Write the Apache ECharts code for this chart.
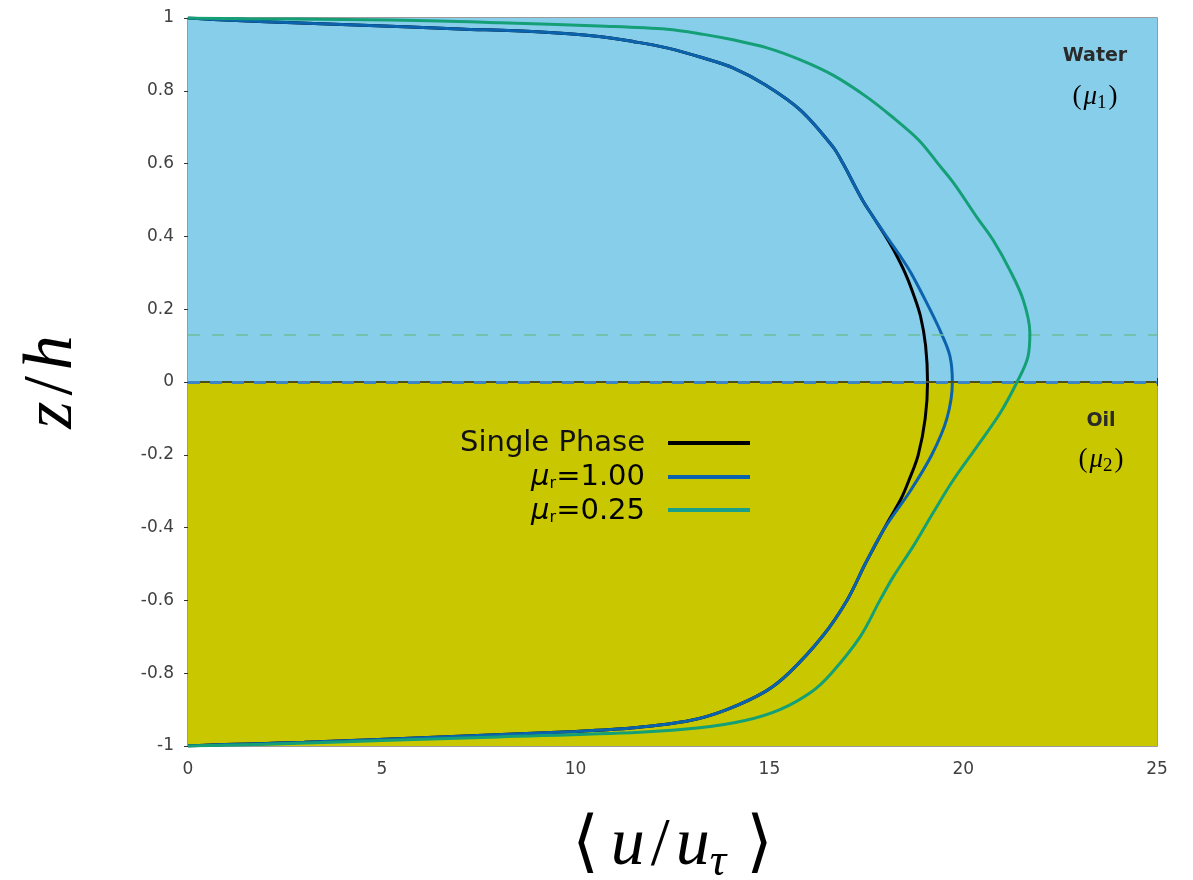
<!DOCTYPE html>
<html>
<head>
<meta charset="utf-8">
<script src="https://cdn.jsdelivr.net/npm/echarts@6/dist/echarts.min.js"></script>
<style>
  html, body { margin: 0; padding: 0; background: #ffffff; }
  #chart { width: 1193px; height: 880px; }
</style>
</head>
<body>
<div id="chart"></div>
<script>
// Mean streamwise velocity profiles across the two-layer channel.
const xTicks = [0, 5, 10, 15, 20, 25];
const zTicks = [-1, -0.8, -0.6, -0.4, -0.2, 0, 0.2, 0.4, 0.6, 0.8, 1];

// Single-phase reference profile
const singleZ = [1, 0.995, 0.99, 0.98, 0.97, 0.962, 0.949, 0.935, 0.918, 0.89, 0.863, 0.816, 0.747, 0.646, 0.6, 0.5, 0.45, 0.4, 0.36, 0.3, 0.24, 0.18, 0.1, 0.0, -0.1, -0.2, -0.27, -0.32, -0.38, -0.45, -0.5, -0.6, -0.7, -0.8, -0.85, -0.9, -0.93, -0.95, -0.96, -0.975, -0.99, -0.995, -1];
const singleU = [0, 0.8, 2, 4.5, 7, 9, 10.6, 11.5, 12.35, 13.3, 14.06, 14.9, 15.8, 16.64, 16.9, 17.4, 17.7, 18.0, 18.22, 18.5, 18.72, 18.9, 19.03, 19.08, 19.02, 18.84, 18.6, 18.4, 18.08, 17.72, 17.47, 17.0, 16.36, 15.5, 14.9, 13.9, 12.95, 11.5, 10, 6.5, 3, 1.2, 0];

// Viscosity ratio 1.00
const mu100Z = [1, 0.995, 0.99, 0.98, 0.97, 0.962, 0.949, 0.935, 0.918, 0.89, 0.863, 0.816, 0.747, 0.646, 0.6, 0.5, 0.45, 0.4, 0.35, 0.3, 0.2, 0.13, 0.07, 0.0, -0.1, -0.2, -0.3, -0.4, -0.5, -0.6, -0.7, -0.8, -0.85, -0.9, -0.93, -0.95, -0.96, -0.975, -0.99, -0.995, -1];
const mu100U = [0, 0.8, 2, 4.5, 7, 9, 10.6, 11.5, 12.35, 13.3, 14.06, 14.9, 15.8, 16.64, 16.9, 17.4, 17.7, 18.02, 18.35, 18.65, 19.14, 19.45, 19.66, 19.72, 19.58, 19.19, 18.63, 17.98, 17.47, 17.0, 16.36, 15.5, 14.9, 13.9, 12.95, 11.5, 10, 6.5, 3, 1.2, 0];

// Viscosity ratio 0.25
const mu025Z = [1, 0.998, 0.996, 0.992, 0.987, 0.978, 0.969, 0.955, 0.94, 0.918, 0.885, 0.843, 0.784, 0.73, 0.665, 0.6, 0.547, 0.453, 0.39, 0.308, 0.225, 0.135, 0.069, 0.0, -0.086, -0.178, -0.27, -0.36, -0.453, -0.536, -0.6, -0.7, -0.8, -0.85, -0.9, -0.93, -0.95, -0.962, -0.975, -0.985, -0.995, -1];
const mu025U = [0, 1.5, 4, 6.5, 8.05, 10.6, 12.36, 13.3, 14.06, 14.94, 15.8, 16.64, 17.5, 18.15, 18.85, 19.35, 19.75, 20.35, 20.77, 21.2, 21.55, 21.72, 21.67, 21.39, 20.95, 20.35, 19.74, 19.22, 18.7, 18.19, 17.85, 17.34, 16.6, 16.1, 15.27, 14.37, 13.2, 11.66, 8, 5, 2, 0];

// Interface levels
const interfaceZ = 0;
const meanLevelZ = 0.13;

const seriesNames = ['Single Phase', 'μr=1.00', 'μr=0.25'];
const colors = ['#000000', '#0b62ad', '#159f76'];

function pairs(u, z) { return u.map((v, i) => [v, z[i]]); }

const chart = echarts.init(document.getElementById('chart'));
const tickFont = { fontFamily: '"DejaVu Sans", sans-serif', fontSize: 17, color: '#404040' };
const serif = '"Liberation Serif", "DejaVu Serif", serif';
const sans = '"DejaVu Sans", "Liberation Sans", sans-serif';

const muRich = {
  i: { fontFamily: sans, fontStyle: 'italic', fontSize: 29, color: '#111' },
  s: { fontFamily: sans, fontSize: 16, color: '#111', padding: [14, 0, 0, 0] },
  n: { fontFamily: sans, fontSize: 29, color: '#111' }
};
const phaseRich = {
  p: { fontFamily: serif, fontSize: 27, color: '#000' },
  i: { fontFamily: serif, fontStyle: 'italic', fontSize: 27, color: '#000', padding: [0, 0, 0, 2] },
  s: { fontFamily: serif, fontSize: 19, color: '#000', padding: [12, 2, 0, 0] }
};

const option = {
  animation: false,
  grid: { left: 188, right: 36, top: 18, bottom: 134, containLabel: false, outerBoundsMode: 'none', show: true, borderColor: '#7a7a7a', borderWidth: 1.5, backgroundColor: 'transparent' },
  xAxis: [{
    type: 'value', min: 0, max: 25, interval: 5,
    axisLine: { show: false },
    axisTick: { inside: true, length: 4, lineStyle: { color: '#333' } },
    axisLabel: Object.assign({ margin: 15 }, tickFont),
    splitLine: { show: false },
    name: '{b|⟨}{i|u}{n|/}{i|u}{s|τ}{c|⟩}', nameLocation: 'middle', nameGap: 60,
    nameTextStyle: {
      rich: {
        b: { fontFamily: serif, fontSize: 68, color: '#000', padding: [0, 12, 0, 0] },
        c: { fontFamily: serif, fontSize: 68, color: '#000', padding: [0, 0, 0, 12] },
        n: { fontFamily: serif, fontSize: 68, color: '#000', padding: [0, 6, 0, 6] },
        i: { fontFamily: serif, fontStyle: 'italic', fontSize: 68, color: '#000' },
        s: { fontFamily: serif, fontStyle: 'italic', fontSize: 46, color: '#000', padding: [34, 8, 0, 0] }
      }
    }
  }, {
    type: 'value', min: 0, max: 25, interval: 5, position: 'top',
    axisLine: { show: false }, axisLabel: { show: false },
    axisTick: { inside: true, length: 4, lineStyle: { color: '#333' } },
    splitLine: { show: false }
  }],
  yAxis: [{
    type: 'value', min: -1, max: 1, interval: 0.2,
    axisLine: { show: false },
    axisTick: { inside: true, length: 4, lineStyle: { color: '#333' } },
    axisLabel: Object.assign({ margin: 14, formatter: v => String(Math.round(v * 10) / 10) }, tickFont),
    splitLine: { show: false },
    name: '{i|z}{n|/}{i|h}', nameLocation: 'middle', nameGap: 100, nameRotate: 90,
    nameTextStyle: {
      rich: {
        n: { fontFamily: serif, fontSize: 70, color: '#000', padding: [0, 6, 0, 6] },
        i: { fontFamily: serif, fontStyle: 'italic', fontSize: 70, color: '#000' }
      }
    }
  }, {
    type: 'value', min: -1, max: 1, interval: 0.2, position: 'right',
    axisLine: { show: false }, axisLabel: { show: false },
    axisTick: { inside: true, length: 4, lineStyle: { color: '#333' } },
    splitLine: { show: false }
  }],
  series: [
    {
      name: 'phases', type: 'line', data: [], silent: true, z: 1,
      markArea: {
        silent: true,
        data: [
          [{ yAxis: interfaceZ, itemStyle: { color: '#87ceea' } }, { yAxis: 1 }],
          [{ yAxis: -1, itemStyle: { color: '#c9c800' } }, { yAxis: interfaceZ }]
        ]
      },
      markLine: {
        silent: true, symbol: 'none', label: { show: false },
        data: [
          { yAxis: interfaceZ, lineStyle: { color: '#4e4e1c', width: 2, type: 'solid' } },
          { yAxis: meanLevelZ, lineStyle: { color: '#6cbf9c', width: 1.5, type: [12, 12] } }
        ]
      }
    },
    {
      name: 'interface', type: 'line', data: [], silent: true, z: 2,
      markLine: {
        silent: true, symbol: 'none', label: { show: false },
        data: [{ yAxis: interfaceZ, lineStyle: { color: '#3d86c6', width: 3, type: [12, 10] } }]
      }
    },
    { name: seriesNames[0], type: 'line', data: pairs(singleU, singleZ), showSymbol: false, smooth: 0.35, lineStyle: { color: colors[0], width: 3 }, z: 3 },
    { name: seriesNames[1], type: 'line', data: pairs(mu100U, mu100Z), showSymbol: false, smooth: 0.35, lineStyle: { color: colors[1], width: 3 }, z: 4 },
    { name: seriesNames[2], type: 'line', data: pairs(mu025U, mu025Z), showSymbol: false, smooth: 0.35, lineStyle: { color: colors[2], width: 3 }, z: 5 }
  ],
  graphic: {
    elements: [
      // legend entries
      { type: 'text', z: 100, x: 645, y: 443, style: { text: seriesNames[0], font: '29px ' + sans, fill: '#111', align: 'right', verticalAlign: 'middle' } },
      { type: 'text', z: 100, x: 645, y: 477, style: { text: '{i|μ}{s|r}{n|=1.00}', rich: muRich, align: 'right', verticalAlign: 'middle' } },
      { type: 'text', z: 100, x: 645, y: 511, style: { text: '{i|μ}{s|r}{n|=0.25}', rich: muRich, align: 'right', verticalAlign: 'middle' } },
      { type: 'line', z: 100, shape: { x1: 668, y1: 443, x2: 750, y2: 443 }, style: { stroke: colors[0], lineWidth: 4 } },
      { type: 'line', z: 100, shape: { x1: 668, y1: 477, x2: 750, y2: 477 }, style: { stroke: colors[1], lineWidth: 4 } },
      { type: 'line', z: 100, shape: { x1: 668, y1: 510, x2: 750, y2: 510 }, style: { stroke: '#1aa088', lineWidth: 4 } },
      // phase labels
      { type: 'text', z: 100, x: 1095, y: 56, style: { text: 'Water', font: 'bold 19px ' + sans, fill: '#2a2a2a', align: 'center', verticalAlign: 'middle' } },
      { type: 'text', z: 100, x: 1095, y: 97, style: { text: '{p|(}{i|μ}{s|1}{p|)}', rich: phaseRich, align: 'center', verticalAlign: 'middle' } },
      { type: 'text', z: 100, x: 1101, y: 421, style: { text: 'Oil', font: 'bold 19px ' + sans, fill: '#2a2a2a', align: 'center', verticalAlign: 'middle' } },
      { type: 'text', z: 100, x: 1101, y: 460, style: { text: '{p|(}{i|μ}{s|2}{p|)}', rich: phaseRich, align: 'center', verticalAlign: 'middle' } }
    ]
  }
};
chart.setOption(option);
</script>
</body>
</html>
